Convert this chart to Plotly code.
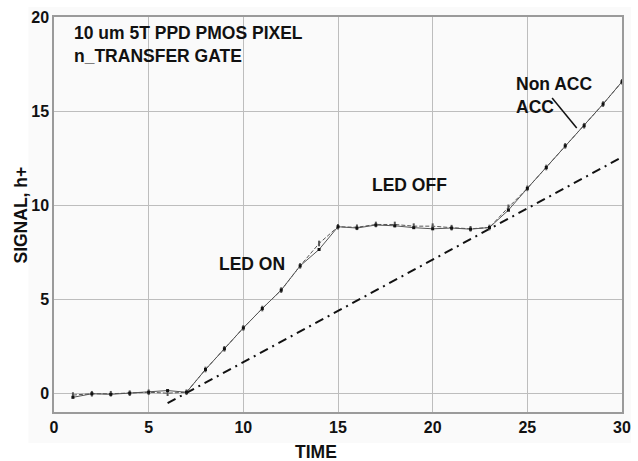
import plotly.graph_objects as go

# Sample times and measured pixel signal for the two readout modes
time = list(range(1, 31))
signal_non_acc = [-0.10, -0.03, -0.03, 0.00, 0.05, 0.00, 0.05, 1.26, 2.36, 3.47,
                  4.50, 5.48, 6.77, 7.96, 8.85, 8.82, 8.97, 8.97, 8.88, 8.88,
                  8.80, 8.74, 8.81, 9.88, 10.89, 12.00, 13.15, 14.22, 15.37, 16.56]
signal_acc = [-0.22, -0.03, -0.06, 0.00, 0.05, 0.14, 0.05, 1.26, 2.36, 3.47,
              4.50, 5.48, 6.77, 7.64, 8.85, 8.78, 8.94, 8.90, 8.80, 8.74,
              8.78, 8.72, 8.81, 9.73, 10.89, 12.00, 13.15, 14.22, 15.37, 16.56]

# Reference slope line (dash-dot)
ref_time = [6, 30]
ref_signal = [-0.53, 12.55]

x_ticks = [0, 5, 10, 15, 20, 25, 30]
y_ticks = [0, 5, 10, 15, 20]

FONT = "Liberation Sans, Arial, sans-serif"

fig = go.Figure()

fig.add_trace(go.Scatter(
    x=ref_time, y=ref_signal, mode="lines",
    line=dict(color="#111111", width=2, dash="9px,5px,2px,5px"),
    showlegend=False, hoverinfo="skip"))

fig.add_trace(go.Scatter(
    x=time, y=signal_non_acc, mode="lines+markers", name="Non ACC",
    line=dict(color="#555555", width=1, dash="4px,2px"),
    marker=dict(symbol="line-ns-open", size=4, line=dict(color="#111111", width=2)),
    showlegend=False))

fig.add_trace(go.Scatter(
    x=time, y=signal_acc, mode="lines+markers", name="ACC",
    line=dict(color="#555555", width=1),
    marker=dict(symbol="square", size=3, color="#111111"),
    showlegend=False))

bold = dict(family=FONT, size=17.5, color="#111111", weight="bold")
tick_font = dict(family=FONT, size=16, color="#111111", weight="bold")

annotations = [
    dict(text="10 um 5T PPD PMOS PIXEL<br>n_TRANSFER GATE", x=72, y=44,
         showarrow=False, align="left", xanchor="left", yanchor="middle"),
    dict(text="LED ON", x=255, y=264, showarrow=False, xanchor="center", yanchor="middle"),
    dict(text="LED OFF", x=415, y=185, showarrow=False, xanchor="center", yanchor="middle"),
    dict(text="Non ACC<br>ACC", x=521, y=96, showarrow=False, align="left",
         xanchor="left", yanchor="middle"),
    dict(text="TIME", x=320, y=452, showarrow=False, xanchor="center", yanchor="middle"),
    dict(text="SIGNAL, h+", x=20, y=215, showarrow=False, textangle=-90,
         xanchor="center", yanchor="middle"),
]

W, H = 638, 461
ml, mr, mt, mb = 54, 7, 17, 49


def px_to_paper(px, py):
    return (px - ml) / (W - ml - mr), 1 - (py - mt) / (H - mt - mb)


anns = []
for a in annotations:
    a = dict(a)
    a["x"], a["y"] = px_to_paper(a["x"], a["y"])
    a["xref"] = "paper"
    a["yref"] = "paper"
    a["font"] = bold
    anns.append(a)

bx0, by0 = px_to_paper(28, 443)
bx1, by1 = px_to_paper(640, 7)
lx0, ly0 = px_to_paper(560, 98)
lx1, ly1 = px_to_paper(585, 128)

fig.update_layout(
    width=W, height=H,
    margin=dict(l=ml, r=mr, t=mt, b=mb),
    paper_bgcolor="white",
    plot_bgcolor="#fafafa",
    annotations=anns,
    shapes=[
        dict(type="rect", xref="paper", yref="paper", x0=bx0, y0=by0, x1=bx1, y1=by1,
             fillcolor="#fafafa", line=dict(width=0), layer="below"),
        dict(type="line", xref="paper", yref="paper", x0=lx0, y0=ly0, x1=lx1, y1=ly1,
             line=dict(color="#111111", width=1.5)),
    ],
    xaxis=dict(range=[0, 30], tickvals=x_ticks, showgrid=True, gridcolor="#bdbdbd",
               gridwidth=1, zeroline=False, showline=True, linecolor="#9a9a9a",
               linewidth=1.5, mirror=True, ticks="", tickfont=tick_font),
    yaxis=dict(range=[-1, 20], tickvals=y_ticks, showgrid=True, gridcolor="#bdbdbd",
               gridwidth=1, zeroline=False, showline=True, linecolor="#9a9a9a",
               linewidth=1.5, mirror=True, ticks="", tickfont=tick_font),
)

fig.write_html("out.html")
